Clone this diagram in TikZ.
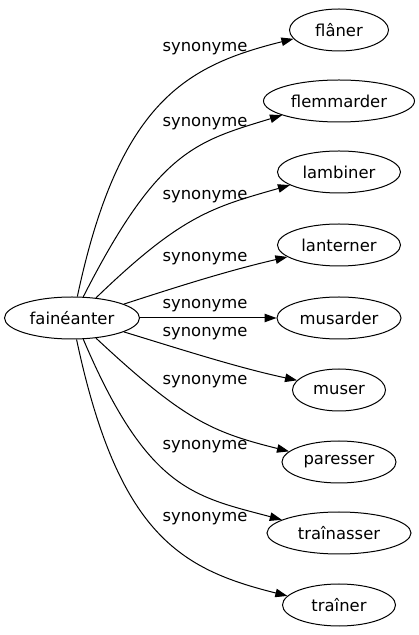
\documentclass[tikz,border=0pt]{standalone}
\usepackage{fontspec}
\setmainfont{DejaVu Sans}
\usetikzlibrary{shapes.geometric,arrows.meta}
\tikzset{word/.style={ellipse, draw, line width=1pt, inner sep=0pt, minimum height=42pt}}
\tikzset{syn/.style={line width=1pt, -{Triangle[length=12pt,width=8.5pt]}}}

\begin{document}
\begin{tikzpicture}[x=1pt, y=1pt, font=\fontsize{16.4}{20}\selectfont]
    \useasboundingbox (0,0) rectangle (419,635);
    \node[word, minimum width=135pt] (fai) at (72,317) {fainéanter};
    \node[word, minimum width=99pt] (fla) at (339,605) {flâner};
    \node[word, minimum width=151pt] (fle) at (339,534) {flemmarder};
    \node[word, minimum width=123pt] (lam) at (339,463) {lambiner};
    \node[word, minimum width=123pt] (lan) at (339,390) {lanterner};
    \node[word, minimum width=124pt] (mus) at (339,317) {musarder};
    \node[word, minimum width=93pt] (mue) at (339,245) {muser};
    \node[word, minimum width=114pt] (par) at (339,173) {paresser};
    \node[word, minimum width=144pt] (tra) at (339,102) {traînasser};
    \node[word, minimum width=113pt] (trr) at (339,30) {traîner};
    \draw[syn] (fai.76) .. controls +(78:200) and +(194:110) .. (fla.191);
    \draw[syn] (fai.62) .. controls +(63:165) and +(197:90) .. (fle.194);
    \draw[syn] (fai.40) .. controls +(44:120) and +(196:80) .. (lam.195);
    \draw[syn] (fai.15) .. controls +(18:60) and +(193:60) .. (lan.193);
    \draw[syn] (fai) -- (mus);
    \draw[syn] (fai.-15) .. controls +(-17:60) and +(168:60) .. (mue.167);
    \draw[syn] (fai.-40) .. controls +(-43:120) and +(166:80) .. (par.168);
    \draw[syn] (fai.-62) .. controls +(-67:165) and +(165:90) .. (tra.167);
    \draw[syn] (fai.-78) .. controls +(-78:200) and +(166:110) .. (trr.170);
    \node (l1) at (205,586) {synonyme};
    \node (l2) at (205,511) {synonyme};
    \node (l3) at (205,438) {synonyme};
    \node (l4) at (205,376) {synonyme};
    \node (l5) at (205,329) {synonyme};
    \node (l6) at (205,301) {synonyme};
    \node (l7) at (205,253) {synonyme};
    \node (l8) at (205,188) {synonyme};
    \node (l9) at (205,116) {synonyme};
\end{tikzpicture}
\end{document}
